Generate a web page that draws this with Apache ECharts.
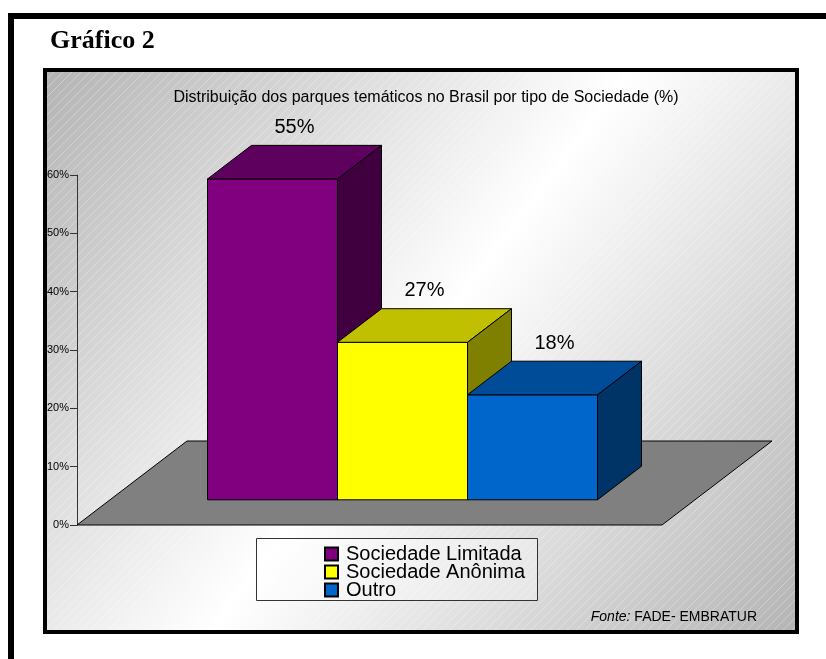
<!DOCTYPE html>
<html>
<head>
<meta charset="utf-8">
<script src="https://cdn.jsdelivr.net/npm/echarts@6/dist/echarts.min.js"></script>
<style>
  html, body { margin: 0; padding: 0; background: #ffffff; }
  #chart { width: 826px; height: 659px; }
</style>
</head>
<body>
<div id="chart"></div>
<script>
// ---- data ----
const categories = ['Sociedade'];
const seriesNames = ['Sociedade Limitada', 'Sociedade Anônima', 'Outro'];
const seriesValues = [55, 27, 18];
const yTickValues = [0, 10, 20, 30, 40, 50, 60];
const headingText = 'Gráfico 2';
const chartTitle = 'Distribuição dos parques temáticos no Brasil por tipo de Sociedade (%)';
const sourceLabel = 'Fonte:';
const sourceText = 'FADE- EMBRATUR';

// ---- styles ----
const faceColors = [
  { front: '#800080', top: '#5e005e', side: '#400040' },
  { front: '#ffff00', top: '#c0c000', side: '#808000' },
  { front: '#0066cc', top: '#004c99', side: '#003366' }
];
const DX = 110, DY = 84;          // depth of the floor (px)
const FRONT = 0.3, DEPTH = 0.4;   // bar depth placement as fraction of floor depth
const GAP = 1.5;                  // gap width (fraction of bar width)
const FONT = "'Liberation Sans', Arial, sans-serif";

const chart = echarts.init(document.getElementById('chart'), null, { renderer: 'canvas' });

// hatch pattern
const pc = document.createElement('canvas');
pc.width = 9; pc.height = 9;
const pctx = pc.getContext('2d');
pctx.strokeStyle = 'rgba(255,255,255,0.3)';
pctx.lineWidth = 1;
pctx.beginPath(); pctx.moveTo(-1, 10); pctx.lineTo(10, -1); pctx.stroke();

function floorRenderer(params, api) {
  const cs = params.coordSys;
  const x0 = cs.x, x1 = cs.x + cs.width, y0 = cs.y + cs.height;
  return {
    type: 'polygon',
    shape: { points: [[x0, y0], [x1, y0], [x1 + DX, y0 - DY], [x0 + DX, y0 - DY]] },
    style: { fill: '#808080', stroke: '#000', lineWidth: 1 }
  };
}

function barRenderer(idx) {
  return function (params, api) {
    const v = api.value(1);
    const base = api.coord([api.value(0), 0]);
    const topP = api.coord([api.value(0), v]);
    const band = api.size([1, 0])[0];
    const n = seriesNames.length;
    const bw = band / (n + GAP);
    const fx = base[0] - band / 2 + (GAP / 2) * bw + idx * bw + FRONT * DX;
    const yb = base[1] - FRONT * DY;
    const yt = topP[1] - FRONT * DY;
    const bdx = DEPTH * DX, bdy = DEPTH * DY;
    const c = faceColors[idx];
    const edge = { stroke: '#000', lineWidth: 1 };
    return {
      type: 'group',
      children: [
        { type: 'polygon', shape: { points: [[fx, yt], [fx + bw, yt], [fx + bw, yb], [fx, yb]] },
          style: Object.assign({ fill: c.front }, edge) },
        { type: 'polygon', shape: { points: [[fx, yt], [fx + bw, yt], [fx + bw + bdx, yt - bdy], [fx + bdx, yt - bdy]] },
          style: Object.assign({ fill: c.top }, edge) },
        { type: 'polygon', shape: { points: [[fx + bw, yt], [fx + bw + bdx, yt - bdy], [fx + bw + bdx, yb - bdy], [fx + bw, yb]] },
          style: Object.assign({ fill: c.side }, edge) },
        { type: 'text', style: { x: fx + bw / 2 + bdx / 2, y: yt - bdy - 18, text: v + '%',
            font: '20px ' + FONT, fill: '#000', align: 'center', verticalAlign: 'middle' } }
      ]
    };
  };
}

const series = [{
  type: 'custom', name: '__floor', silent: true,
  renderItem: floorRenderer, data: [[0]], z: 1
}];
seriesNames.forEach(function (name, i) {
  series.push({
    type: 'custom', name: name, z: 2 + i,
    renderItem: barRenderer(i),
    itemStyle: { color: faceColors[i].front, borderColor: '#000', borderWidth: 1 },
    encode: { x: 0, y: 1 },
    data: [[0, seriesValues[i]]]
  });
});

const option = {
  animation: false,
  backgroundColor: '#ffffff',
  title: {
    text: chartTitle,
    left: 421, top: 85, textAlign: 'center',
    textStyle: { fontFamily: FONT, fontSize: 16, fontWeight: 'normal', color: '#000' }
  },
  legend: {
    data: seriesNames,
    orient: 'vertical',
    left: 324, top: 544,
    icon: 'rect',
    itemWidth: 13, itemHeight: 13, itemGap: -2,
    padding: 0,
    selectedMode: false,
    textStyle: { fontFamily: FONT, fontSize: 20, color: '#000', lineHeight: 18, padding: [0, 0, 0, 3] }
  },
  grid: { left: 77, top: 175, width: 585, height: 350, containLabel: false },
  xAxis: {
    type: 'category', data: categories, show: false
  },
  yAxis: {
    type: 'value', min: 0, max: 60, interval: 10,
    axisLine: { show: true, lineStyle: { color: '#333', width: 1 } },
    axisTick: { show: true, length: 7, lineStyle: { color: '#333' } },
    splitLine: { show: false },
    axisLabel: { formatter: '{value}%', margin: 8, fontFamily: FONT, fontSize: 11, color: '#000' }
  },
  graphic: [
    { type: 'rect', z: -10, silent: true, shape: { x: 11, y: 16, width: 900, height: 800 },
      style: { fill: '#ffffff', stroke: '#000', lineWidth: 6 } },
    { type: 'rect', z: -9, silent: true, shape: { x: 45, y: 70, width: 752, height: 562 },
      style: { fill: new echarts.graphic.LinearGradient(0, 0, 1, 1, [
        { offset: 0, color: '#b4b4b4' }, { offset: 0.5, color: '#ffffff' }, { offset: 1, color: '#b4b4b4' }
      ]) } },
    { type: 'rect', z: -8, silent: true, shape: { x: 45, y: 70, width: 752, height: 562 },
      style: { fill: { image: pc, repeat: 'repeat' } } },
    { type: 'rect', z: -7, silent: true, shape: { x: 45, y: 70, width: 752, height: 562 },
      style: { fill: 'none', stroke: '#000', lineWidth: 4 } },
    { type: 'rect', z: -6, silent: true, shape: { x: 256.5, y: 538.5, width: 281, height: 62 },
      style: { fill: 'rgba(255,255,255,0.35)', stroke: '#333', lineWidth: 1 } },
    { type: 'text', z: 5, silent: true,
      style: { x: 50, y: 41, text: headingText, font: 'bold 26px "Liberation Serif", "Times New Roman", serif',
        fill: '#000', align: 'left', verticalAlign: 'middle' } },
    { type: 'text', z: 5, silent: true,
      style: { x: 757, y: 617, align: 'right', verticalAlign: 'middle',
        text: '{i|' + sourceLabel + '} ' + sourceText,
        font: '14px ' + FONT, fill: '#000',
        rich: { i: { fontStyle: 'italic', fontFamily: FONT, fontSize: 14, fill: '#000' } } } }
  ],
  series: series
};
chart.setOption(option);
</script>
</body>
</html>
